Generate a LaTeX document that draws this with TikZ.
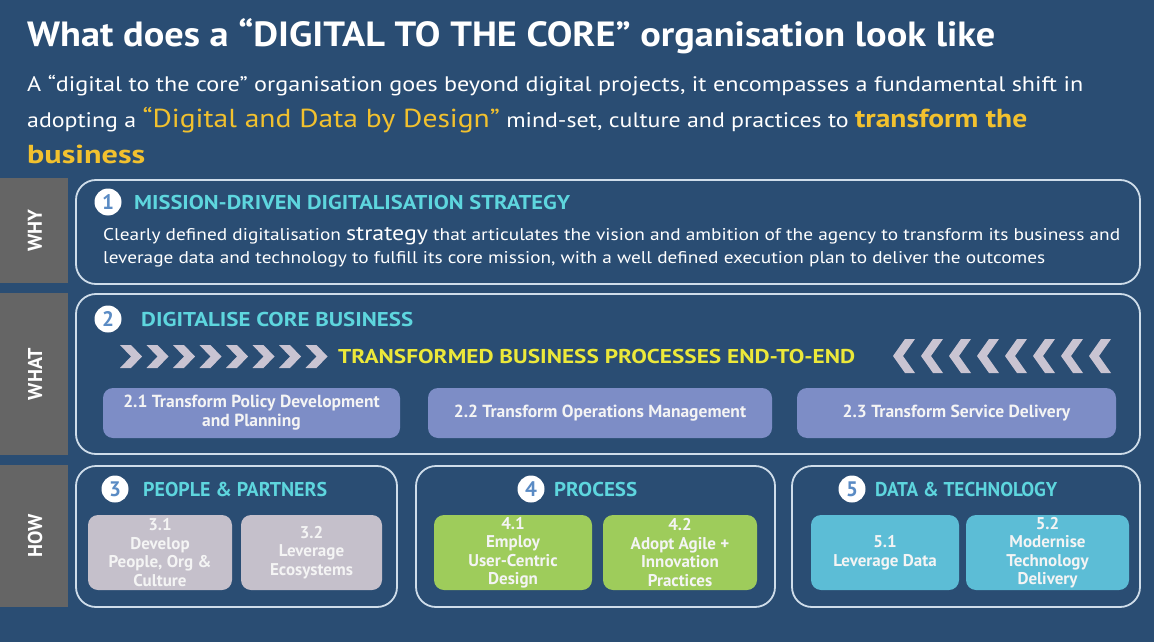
\documentclass[tikz,border=0pt]{standalone}
\usepackage{fontspec}
\setmainfont{PT Sans}
\usepackage{graphicx}
\definecolor{bgblue}{HTML}{2A4D73}
\definecolor{sidegrey}{HTML}{656565}
\definecolor{frameline}{HTML}{CFDDEA}
\definecolor{headcyan}{HTML}{5ED6DE}
\definecolor{gold}{HTML}{F2C12E}
\definecolor{lemon}{HTML}{ECE83A}
\definecolor{chevgrey}{HTML}{C9C4D2}
\definecolor{lav}{HTML}{7D8DC6}
\definecolor{greybox}{HTML}{C5C0CB}
\definecolor{greenbox}{HTML}{9ECC5B}
\definecolor{tealbox}{HTML}{5CBDD6}
\definecolor{numblue}{HTML}{5A8BC4}
\definecolor{tiletext}{HTML}{F4F4F4}
\newcommand\fitw[2]{\resizebox{#1pt}{\height}{#2}}
\tikzset{
  frame/.style={draw=frameline, line width=1.8pt, rounded corners=20pt},
  sidebar/.style={fill=sidegrey},
  sidetext/.style={text=white, font=\bfseries\fontsize{20}{20}\selectfont, rotate=90},
  numdisc/.style={circle, fill=white, minimum size=27pt, inner sep=0pt,
    text=numblue, font=\bfseries\fontsize{21}{21}\selectfont},
  heading/.style={anchor=west, inner sep=0pt, text=headcyan, font=\bfseries\fontsize{20}{20}\selectfont},
  tile/.style={rounded corners=10pt, inner sep=0pt, align=center, text=tiletext,
    font=\bfseries\fontsize{17}{18.5}\selectfont},
  widetile/.style={tile, minimum height=50pt, font=\bfseries\fontsize{17.5}{19}\selectfont},
  chev/.style={fill=chevgrey},
  plain/.style={anchor=base west, inner sep=0pt, text=white}
}
\begin{document}
\begin{tikzpicture}[x=1pt,y=-1pt]
\useasboundingbox (0,0) rectangle (1154,642);
\fill[bgblue] (0,0) rectangle (1154,642);

% title and introduction
\node[plain, font=\bfseries\fontsize{35}{35}\selectfont] (title) at (27,47)
  {\fitw{968}{What does a “DIGITAL TO THE CORE” organisation look like}};
\node[plain, font=\fontsize{21}{21}\selectfont] (introa) at (27,92)
  {\fitw{1056}{A “digital to the core” organisation goes beyond digital projects, it encompasses a fundamental shift in}};
\node[plain, font=\fontsize{21}{21}\selectfont] (introb) at (27,128)
  {\fitw{1000}{adopting a {\color{gold}\fontsize{26}{26}\selectfont “Digital and Data by Design”} mind-set, culture and practices to {\color{gold}\bfseries\fontsize{26}{26}\selectfont transform the}}};
\node[plain, text=gold, font=\bfseries\fontsize{26}{26}\selectfont] (introc) at (27,163)
  {\fitw{118}{business}};

% side bars
\fill[sidebar] (0,178) rectangle (68,283);
\fill[sidebar] (0,293) rectangle (68,455);
\fill[sidebar] (0,465) rectangle (68,607);
\node[sidetext] (why) at (35,230.5) {WHY};
\node[sidetext] (what) at (35,374) {WHAT};
\node[sidetext] (how) at (35,536) {HOW};

% 1: strategy
\draw[frame] (76,180) rectangle (1140,284);
\node[numdisc] (n1) at (108,202) {1};
\node[heading] (h1) at (134,202) {\fitw{436}{MISSION-DRIVEN DIGITALISATION STRATEGY}};
\node[plain, font=\fontsize{17}{17}\selectfont] (b1a) at (103,240)
  {\fitw{1017}{Clearly defined digitalisation {\fontsize{21}{21}\selectfont strategy} that articulates the vision and ambition of the agency to transform its business and}};
\node[plain, font=\fontsize{17}{17}\selectfont] (b1b) at (103,263)
  {\fitw{942}{leverage data and technology to fulfill its core mission, with a well defined execution plan to deliver the outcomes}};

% 2: core business
\draw[frame] (76,294) rectangle (1140,454);
\node[numdisc] (n2) at (108,319) {2};
\node[heading] (h2) at (141,319) {\fitw{272}{DIGITALISE CORE BUSINESS}};
\foreach \i in {0,...,7}
  \fill[chev] ({120+\i*26.5},345) -- ++(11,0) -- ++(11,11.5) -- ++(-11,11.5)
    -- ++(-11,0) -- ++(11,-11.5) -- cycle;
\node[anchor=west, inner sep=0pt, text=lemon, font=\bfseries\fontsize{20}{20}\selectfont] (flow) at (338,356)
  {\fitw{517}{TRANSFORMED BUSINESS PROCESSES END-TO-END}};
\foreach \i in {0,...,7}
  \fill[chev] ({893+\i*28},356) -- ++(12,-17) -- ++(10,0) -- ++(-12,17)
    -- ++(12,17) -- ++(-10,0) -- cycle;
\node[widetile, fill=lav, minimum width=297pt] (t21) at (251.5,413)
  {2.1 Transform Policy Development\\and Planning};
\node[widetile, fill=lav, minimum width=344pt] (t22) at (600,413)
  {2.2 Transform Operations Management};
\node[widetile, fill=lav, minimum width=319pt] (t23) at (956.5,413)
  {2.3 Transform Service Delivery};

% 3: people
\draw[frame] (76,466) rectangle (397,607);
\node[numdisc] (n3) at (115,489) {3};
\node[heading] (h3) at (143,489) {\fitw{184}{PEOPLE \& PARTNERS}};
\node[tile, fill=greybox, minimum width=144pt, minimum height=75pt] (t31) at (160,552.5)
  {3.1\\Develop\\People, Org \&\\Culture};
\node[tile, fill=greybox, minimum width=141pt, minimum height=75pt] (t32) at (311.5,552.5)
  {3.2\\Leverage\\Ecosystems};

% 4: process
\draw[frame] (416,466) rectangle (775,607);
\node[numdisc] (n4) at (531,489) {4};
\node[heading] (h4) at (554,489) {\fitw{83}{PROCESS}};
\node[tile, fill=greenbox, minimum width=158pt, minimum height=75pt] (t41) at (513,552.5)
  {4.1\\Employ\\User-Centric\\Design};
\node[tile, fill=greenbox, minimum width=154pt, minimum height=75pt] (t42) at (680,552.5)
  {4.2\\Adopt Agile +\\Innovation\\Practices};

% 5: data and technology
\draw[frame] (792,466) rectangle (1140,607);
\node[numdisc] (n5) at (852,489) {5};
\node[heading] (h5) at (875,489) {\fitw{182}{DATA \& TECHNOLOGY}};
\node[tile, fill=tealbox, minimum width=148pt, minimum height=75pt] (t51) at (885,552.5)
  {5.1\\Leverage Data};
\node[tile, fill=tealbox, minimum width=163pt, minimum height=75pt] (t52) at (1047.5,552.5)
  {5.2\\Modernise\\Technology\\Delivery};
\end{tikzpicture}
\end{document}
